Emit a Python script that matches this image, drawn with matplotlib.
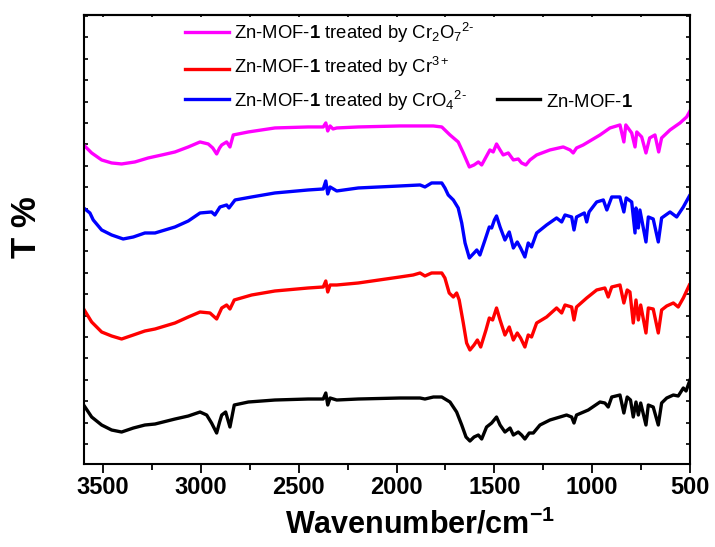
import matplotlib
matplotlib.use("Agg")
import matplotlib.pyplot as plt
from matplotlib.ticker import MultipleLocator
from matplotlib.lines import Line2D

plt.rcParams['font.family'] = ['Liberation Sans', 'DejaVu Sans']
plt.rcParams['mathtext.fontset'] = 'custom'
plt.rcParams['mathtext.rm'] = 'Liberation Sans'
plt.rcParams['mathtext.bf'] = 'Liberation Sans:bold'
plt.rcParams['mathtext.it'] = 'Liberation Sans:italic'

# FTIR spectra, wavenumber (cm-1) vs transmittance (arb. offset units)
wn_dichromate = [3600, 3559, 3508, 3457, 3406, 3338, 3270, 3200, 3133, 3065, 3005, 2963, 2940, 2920,
                 2905, 2894, 2869, 2852, 2835, 2758, 2622, 2452, 2375, 2362, 2352, 2340, 2325, 2306,
                 2196, 1983, 1812, 1769, 1727, 1685, 1659, 1628, 1604, 1582, 1565, 1523, 1506, 1489,
                 1471, 1455, 1429, 1403, 1378, 1361, 1339, 1318, 1284, 1216, 1148, 1113, 1097, 1080,
                 1046, 960, 909, 858, 838, 828, 798, 781, 772, 747, 725, 706, 679, 660, 645, 602,
                 551, 517, 500]
t_dichromate = [319, 311, 304, 301, 300, 302, 306, 309, 312, 317, 322, 320, 316, 310,
                316, 319, 322, 317, 329, 332, 336, 337, 337, 341, 333, 338, 335, 336,
                337, 338, 338, 337, 329, 322, 311, 297, 299, 302, 299, 314, 312, 320,
                314, 309, 311, 304, 305, 301, 299, 304, 309, 314, 317, 314, 311, 316,
                319, 329, 336, 339, 322, 339, 331, 317, 332, 327, 311, 326, 329, 312, 326, 334,
                341, 347, 353]

wn_chromate = [3600, 3568, 3551, 3508, 3457, 3398, 3346, 3287, 3235, 3133, 3065, 3005, 2946, 2929,
               2903, 2869, 2857, 2826, 2741, 2622, 2452, 2375, 2362, 2352, 2340, 2306, 2196, 1983,
               1880, 1855, 1821, 1769, 1753, 1736, 1710, 1685, 1667, 1650, 1628, 1604, 1590, 1574,
               1548, 1526, 1514, 1500, 1489, 1471, 1446, 1424, 1403, 1383, 1366, 1344, 1327, 1310,
               1284, 1233, 1182, 1156, 1139, 1105, 1093, 1080, 1040, 1028, 1016, 977, 943, 925,
               900, 858, 838, 826, 798, 781, 776, 764, 756, 725, 713, 688, 662, 645, 602, 568,
               534, 503]
t_chromate = [256, 251, 244, 234, 229, 225, 227, 231, 231, 237, 243, 251, 252, 249,
              257, 259, 256, 264, 267, 271, 274, 275, 283, 270, 277, 273, 276, 278,
              279, 277, 281, 281, 276, 269, 264, 256, 241, 221, 206, 211, 214, 209,
              224, 237, 236, 244, 248, 237, 224, 232, 216, 222, 216, 207, 221, 217,
              231, 239, 246, 242, 249, 247, 234, 247, 251, 242, 252, 262, 264, 254,
              267, 267, 252, 266, 262, 231, 256, 236, 254, 222, 247, 245, 222, 246, 252, 247,
              257, 268]

wn_cr3 = [3600, 3559, 3508, 3457, 3406, 3346, 3287, 3235, 3133, 3065, 3005, 2954, 2920, 2894,
          2869, 2852, 2830, 2741, 2622, 2452, 2375, 2362, 2352, 2340, 2306, 2196, 1983, 1915,
          1880, 1855, 1821, 1769, 1753, 1731, 1710, 1693, 1680, 1659, 1642, 1625, 1604, 1587,
          1570, 1543, 1526, 1509, 1489, 1471, 1446, 1424, 1403, 1383, 1366, 1344, 1327, 1310,
          1284, 1233, 1182, 1156, 1139, 1105, 1093, 1080, 1028, 977, 935, 918, 900, 858, 838,
          821, 807, 790, 776, 764, 752, 725, 713, 688, 662, 645, 619, 585, 560, 534, 503]
t_cr3 = [155, 142, 132, 128, 125, 129, 133, 135, 141, 147, 152, 151, 145, 156,
         159, 155, 164, 169, 173, 176, 177, 183, 172, 179, 179, 181, 187, 189,
         191, 188, 191, 191, 186, 171, 167, 171, 164, 141, 121, 114, 119, 124,
         117, 134, 146, 144, 156, 144, 129, 137, 124, 131, 126, 117, 129, 127,
         141, 147, 156, 151, 159, 157, 144, 157, 166, 174, 176, 167, 177, 179, 161,
         174, 172, 141, 164, 144, 159, 131, 156, 155, 131, 154, 158, 161, 157, 166, 179]

wn_mof = [3600, 3559, 3508, 3457, 3406, 3346, 3287, 3235, 3133, 3065, 3005, 2971, 2946, 2920,
          2905, 2894, 2874, 2852, 2830, 2758, 2622, 2452, 2375, 2362, 2352, 2340, 2306, 2196,
          1983, 1880, 1855, 1812, 1769, 1727, 1693, 1667, 1645, 1625, 1604, 1582, 1565, 1540,
          1514, 1489, 1471, 1446, 1420, 1403, 1378, 1361, 1344, 1322, 1301, 1267, 1216, 1165,
          1131, 1105, 1093, 1080, 1020, 960, 935, 918, 900, 858, 838, 821, 804, 790, 776, 764,
          752, 725, 713, 688, 662, 645, 619, 585, 560, 534, 520, 500]
t_mof = [59, 47, 39, 34, 32, 36, 39, 40, 45, 48, 52, 49, 41, 31,
         42, 49, 52, 37, 59, 62, 64, 65, 65, 71, 59, 66, 64, 65,
         66, 66, 65, 67, 67, 62, 52, 39, 27, 23, 27, 29, 25, 37,
         41, 47, 39, 32, 36, 29, 32, 29, 25, 31, 31, 39, 44, 47,
         49, 47, 41, 49, 54, 62, 61, 57, 67, 69, 51, 67, 64, 47, 62, 49,
         61, 39, 59, 57, 39, 61, 66, 69, 68, 76, 73, 84]

fig = plt.figure(figsize=(7.15, 5.47), dpi=100)
ax = fig.add_axes([0.117, 0.1517, 0.848, 0.821])

lw = 2.4
ax.plot(wn_mof, t_mof, color='black', lw=lw)
ax.plot(wn_cr3, t_cr3, color='#ff0000', lw=lw)
ax.plot(wn_chromate, t_chromate, color='#0000ff', lw=lw)
ax.plot(wn_dichromate, t_dichromate, color='#ff00ff', lw=lw)

ax.set_xlim(3600, 500)
ax.set_ylim(0, 449)

ax.xaxis.set_major_locator(MultipleLocator(500))
ax.xaxis.set_minor_locator(MultipleLocator(250))
ax.yaxis.set_major_locator(MultipleLocator(21.4, offset=20))
ax.tick_params(axis='x', which='major', direction='out', length=6.5, width=1.3,
               labelsize=17, pad=2)
ax.tick_params(axis='x', which='minor', direction='out', length=4, width=1.3)
ax.tick_params(axis='y', which='major', direction='in', length=3, width=1.2,
               left=True, right=True, labelleft=False)
for lab in ax.get_xticklabels():
    lab.set_fontweight('bold')

# tiny inward ticks along the top frame
top = ax.secondary_xaxis('top')
top.xaxis.set_major_locator(MultipleLocator(500))
top.xaxis.set_minor_locator(MultipleLocator(250))
top.tick_params(which='both', direction='in', length=1.5, width=1.2, labeltop=False)

for s in ax.spines.values():
    s.set_linewidth(1.5)
top.spines['top'].set_linewidth(1.5)

ax.set_xlabel(r'Wavenumber/cm$^{\mathbf{-1}}$', fontsize=22, fontweight='bold')
ax.xaxis.set_label_coords(0.555, -0.1)
ax.set_ylabel('T %', fontsize=25, fontweight='bold')
ax.yaxis.set_label_coords(-0.067, 0.528)

# legend entries placed by hand
entries = [
    ('#ff00ff', r'Zn-MOF-$\mathbf{1}$ treated by Cr$_2$O$_7$$^{2\text{-}}$', 0.167, 0.962, 0.9465),
    ('#ff0000', r'Zn-MOF-$\mathbf{1}$ treated by Cr$^{3+}$', 0.167, 0.8797, 0.8708),
    ('#0000ff', r'Zn-MOF-$\mathbf{1}$ treated by CrO$_4$$^{2\text{-}}$', 0.167, 0.813, 0.796),
    ('black', r'Zn-MOF-$\mathbf{1}$', 0.681, 0.813, 0.796),
]
for color, label, x0, yline, ytext in entries:
    ax.add_line(Line2D([x0, x0 + 0.072], [yline, yline], color=color, lw=lw,
                       transform=ax.transAxes))
    ax.text(x0 + 0.081, ytext, label, transform=ax.transAxes, fontsize=13.3,
            va='baseline', ha='left')

fig.savefig('out.png', dpi=100)
